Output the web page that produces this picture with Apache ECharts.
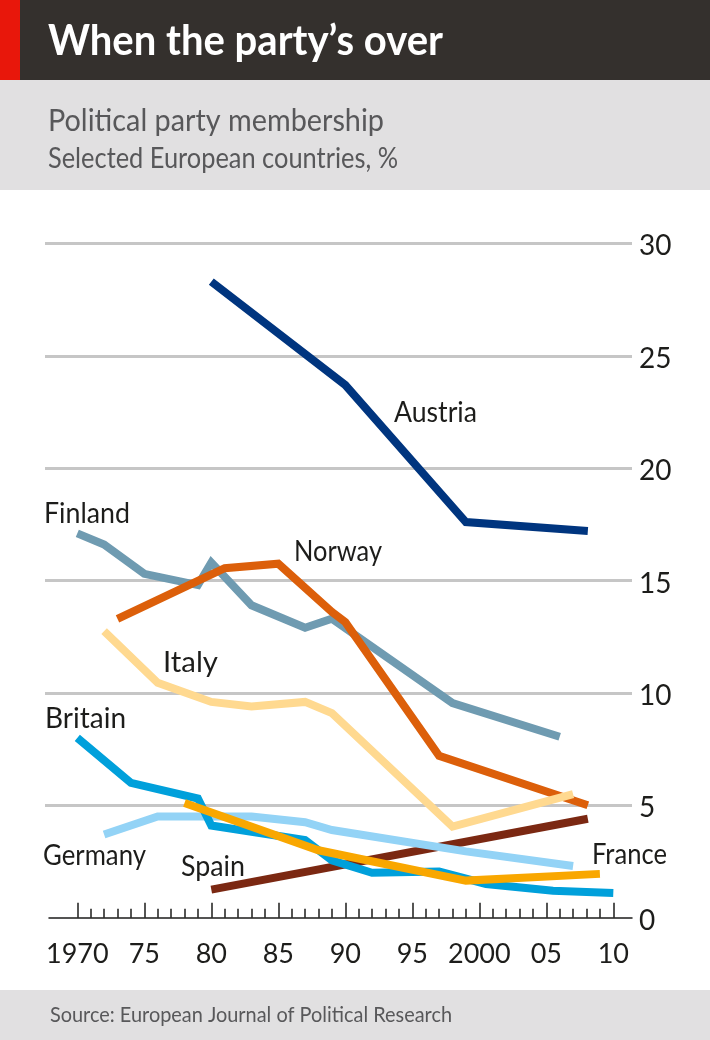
<!DOCTYPE html>
<html><head><meta charset="utf-8">
<style>html,body{margin:0;padding:0;background:#fff}#c{width:710px;height:1040px}</style>
<script src="https://cdn.jsdelivr.net/npm/echarts@6/dist/echarts.min.js"></script>
</head><body><div id="c"></div>
<script>
const titleText = "When the party’s over";
const subtitle1 = "Political party membership";
const subtitle2 = "Selected European countries, %";
const sourceText = "Source: European Journal of Political Research";
const xTickLabels = {1970:"1970",1975:"75",1980:"80",1985:"85",1990:"90",1995:"95",2000:"2000",2005:"05",2010:"10"};

const spain = [[1980,1.25],[2008.1,4.4]];
const finland = [[1970,17.1],[1972,16.6],[1975,15.3],[1979,14.8],[1980,15.8],[1983,13.9],[1987,12.9],[1989,13.3],[1998,9.55],[2006,8.05]];
const germany = [[1972,3.7],[1976,4.5],[1979,4.5],[1983,4.5],[1987,4.25],[1989,3.9],[1999,2.95],[2007,2.3]];
const britain = [[1970,8.0],[1974,6.0],[1979,5.3],[1980,4.1],[1987,3.45],[1989,2.55],[1992,2.0],[1997,2.05],[2000.5,1.5],[2005.5,1.2],[2010,1.1]];
const austria = [[1980,28.3],[1990,23.7],[1999,17.6],[2008.1,17.2]];
const norway = [[1973,13.3],[1981,15.55],[1985,15.75],[1989,13.6],[1990,13.15],[1997,7.2],[2008.1,5.0]];
const italy = [[1972,12.75],[1976,10.45],[1980,9.6],[1983,9.4],[1987,9.6],[1989,9.1],[1998,4.05],[2007,5.5]];
const france = [[1978,5.1],[1988,3.0],[1999,1.65],[2009,1.95]];

const FONT = 'Lato,"Liberation Sans",sans-serif';
const ctx = document.createElement('canvas').getContext('2d');
const line = (name,data,color)=>({name,type:'line',data,xAxisIndex:2,yAxisIndex:2,symbol:'none',silent:true,clip:false,
  lineStyle:{color,width:8,cap:'butt',join:'miter'}});
// a text fitted to the width it has in the reference
const txt = (text,x,y,targetWidth,fontSize,fill,fontWeight)=>{
  const fw = fontWeight||'normal';
  ctx.font = fw+' '+fontSize+'px '+FONT;
  return {type:'text',x,y,scaleX:targetWidth/ctx.measureText(text).width,silent:true,
    style:{text,fontSize,fill,fontFamily:FONT,fontWeight:fw,verticalAlign:'middle',align:'left'}};
};
const rect = (x,y,w,h,fill)=>({type:'rect',shape:{x,y,width:w,height:h},style:{fill},silent:true});

const chart = echarts.init(document.getElementById('c'),null,{renderer:'canvas'});
const top0=243.4, h0=674.3, hide={show:false};
const INK='#1d1d1b';
chart.setOption({
  animation:false,
  grid:[
    {left:45,width:587,top:top0,height:h0},
    {left:49,width:583,top:top0,height:h0},
    {left:77.3,width:536,top:top0,height:h0}
  ],
  xAxis:[
    {gridIndex:0,type:'value',min:0,max:1,show:false},
    {gridIndex:1,type:'value',min:0,max:1,axisLine:{show:true,onZero:false,lineStyle:{color:INK,width:1.5}},axisTick:hide,axisLabel:hide,splitLine:hide},
    {gridIndex:2,type:'value',min:1970,max:2010,interval:5,
      axisLine:{show:false,onZero:false},
      axisTick:{show:true,inside:true,length:15,lineStyle:{color:INK,width:1.5}},
      minorTick:{show:true,splitNumber:5,length:9,lineStyle:{color:INK,width:1.5}},
      minorSplitLine:hide,splitLine:hide,
      axisLabel:{show:true,margin:23,fontSize:27,color:INK,fontFamily:FONT,hideOverlap:false,showMinLabel:true,showMaxLabel:true,
        formatter:v=>xTickLabels[v]||''}}
  ],
  yAxis:[
    {gridIndex:0,type:'value',position:'right',min:0,max:30,interval:5,
      axisLine:hide,axisTick:hide,
      splitLine:{show:true,showMinLine:false,lineStyle:{color:'#c6c6c6',width:3}},
      axisLabel:{show:true,margin:7,formatter:v=>'{a|'+v+'}',
        rich:{a:{fontSize:28,color:INK,fontFamily:FONT,padding:[6,0,0,0]}}}},
    {gridIndex:1,type:'value',min:0,max:30,show:false},
    {gridIndex:2,type:'value',min:0,max:30,show:false}
  ],
  series:[
    line('Spain',spain,'#7b2812'),
    line('Finland',finland,'#6f9bb1'),
    line('Germany',germany,'#93d3f6'),
    line('Britain',britain,'#00a0db'),
    line('Austria',austria,'#00357f'),
    line('Norway',norway,'#dc5f0a'),
    line('Italy',italy,'#ffd990'),
    line('France',france,'#f9a700')
  ],
  graphic:[
    rect(0,0,710,80,'#34302d'), rect(0,0,20,80,'#e8170b'),
    rect(0,80,710,110,'#e1e0e1'), rect(0,990,710,50,'#e1e0e1'),
    txt(titleText,48,41,395,42,'#ffffff','bold'),
    txt(subtitle1,48,121,336,31,'#58585a'),
    txt(subtitle2,48,158.5,350,28,'#58585a'),
    txt(sourceText,50,1015.5,402,21,'#58585a'),
    txt('Finland',44,514,86,28,INK),
    txt('Austria',394,413,83,28,INK),
    txt('Norway',294,552,88,28,INK),
    txt('Italy',163,663,55,28,INK),
    txt('Britain',45,719,81,28,INK),
    txt('Germany',43,856,103,28,INK),
    txt('Spain',181,867,64,28,INK),
    txt('France',592,855,75,28,INK)
  ]
});
</script></body></html>
